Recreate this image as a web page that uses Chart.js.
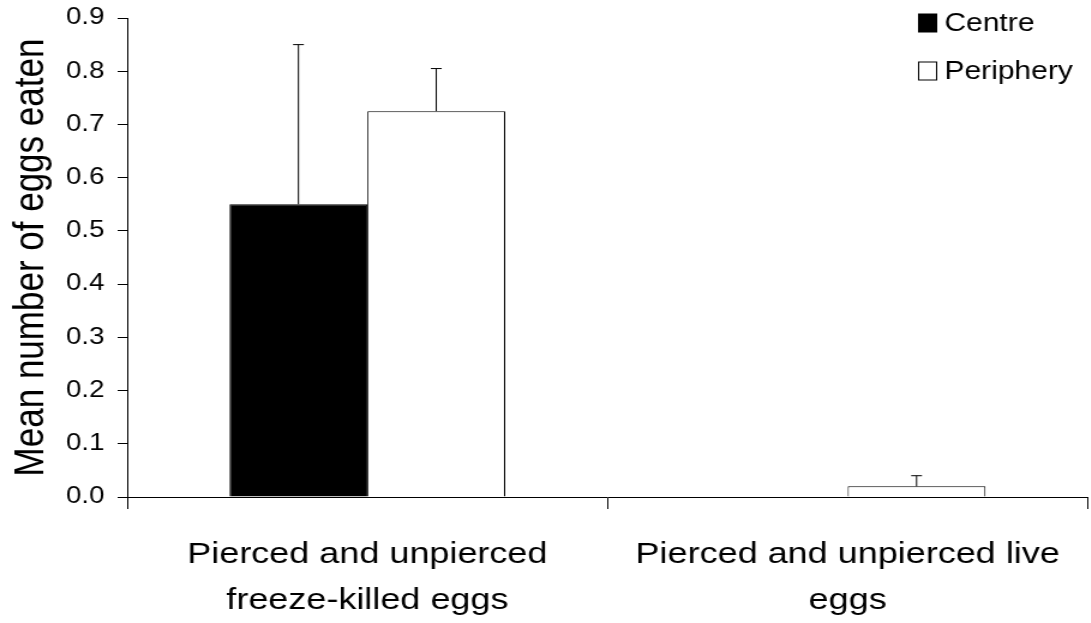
<!DOCTYPE html>
<html>
<head>
<meta charset="utf-8">
<script src="https://cdn.jsdelivr.net/npm/chart.js@4/dist/chart.umd.min.js"></script>
<style>
  html, body { margin: 0; padding: 0; background: #fff; overflow: hidden; }
  /* the reference is stretched horizontally; draw narrow and scale up */
  #wrap { width: 909px; height: 623px; transform: scaleX(1.2); transform-origin: 0 0; }
</style>
</head>
<body>
<div id="wrap"><canvas id="chart"></canvas></div>
<script>
// ---- data -----------------------------------------------------------
const categories = [
  ["Pierced and unpierced", "freeze-killed eggs"],
  ["Pierced and unpierced live", "eggs"],
];
const seriesNames = ["Centre", "Periphery"];
const centreValues = [0.55, 0.0];
const peripheryValues = [0.725, 0.02];
const centreErrors = [0.3, 0.0];
const peripheryErrors = [0.08, 0.02];
const yTicks = [0, 0.1, 0.2, 0.3, 0.4, 0.5, 0.6, 0.7, 0.8, 0.9];

const FONT = "'Liberation Sans', Arial, sans-serif";

// upper-only error bars with caps
const errorBars = {
  id: "errorBars",
  afterDatasetsDraw(chart) {
    const { ctx } = chart;
    const y = chart.scales.y;
    chart.data.datasets.forEach((ds, di) => {
      const meta = chart.getDatasetMeta(di);
      meta.data.forEach((bar, i) => {
        const err = ds.errors[i];
        if (!err) return;
        const top = y.getPixelForValue(ds.data[i] + err);
        ctx.save();
        ctx.strokeStyle = "#000";
        ctx.lineWidth = 1;
        ctx.beginPath();
        ctx.moveTo(bar.x, bar.y);
        ctx.lineTo(bar.x, top);
        ctx.moveTo(bar.x - 4.5, top);
        ctx.lineTo(bar.x + 4.5, top);
        ctx.stroke();
        ctx.restore();
      });
    });
  },
};

// legend in top-right corner
const cornerLegend = {
  id: "cornerLegend",
  afterDraw(chart) {
    const { ctx } = chart;
    const fills = ["#000", "#fff"];
    ctx.save();
    ctx.font = "25px " + FONT;
    ctx.textBaseline = "middle";
    seriesNames.forEach((name, i) => {
      const yy = 23 + i * 48;
      ctx.fillStyle = fills[i];
      ctx.strokeStyle = "#000";
      ctx.lineWidth = 1;
      ctx.fillRect(765.5, yy - 9, 15, 18);
      ctx.strokeRect(765.5, yy - 9, 15, 18);
      ctx.fillStyle = "#000";
      ctx.fillText(name, 787, yy + 1);
    });
    ctx.restore();
  },
};

new Chart(document.getElementById("chart"), {
  type: "bar",
  data: {
    labels: categories,
    datasets: [
      {
        label: seriesNames[0],
        data: centreValues,
        errors: centreErrors,
        backgroundColor: "#000",
        borderColor: "#000",
        borderWidth: 1,
      },
      {
        label: seriesNames[1],
        data: peripheryValues,
        errors: peripheryErrors,
        backgroundColor: "#fff",
        borderColor: "#000",
        borderWidth: 1,
      },
    ],
  },
  options: {
    responsive: true,
    maintainAspectRatio: false,
    animation: false,
    layout: { padding: { top: 18, right: 2.5, left: 5 } },
    categoryPercentage: 0.574,
    barPercentage: 1,
    plugins: { legend: { display: false }, tooltip: { enabled: false } },
    scales: {
      x: {
        grid: { drawOnChartArea: false, offset: true, tickLength: 12, color: "#000" },
        border: { color: "#000" },
        ticks: { color: "#000", font: { family: FONT, size: 30, lineHeight: 1.55 }, maxRotation: 0, padding: 22 },
        afterFit: (s) => { s.height = 126; },
      },
      y: {
        min: 0,
        max: 0.9,
        afterBuildTicks: (s) => { s.ticks = yTicks.map((v) => ({ value: v })); },
        grid: { drawOnChartArea: false, tickLength: 8, color: "#000" },
        border: { color: "#000" },
        ticks: {
          color: "#000",
          font: { family: FONT, size: 23 },
          padding: 11,
          callback: (v) => Number(v).toFixed(1),
        },
        title: {
          display: true,
          text: "Mean number of eggs eaten",
          color: "#000",
          font: { family: FONT, size: 35 },
          padding: 0,
        },
        afterFit: (s) => {
          s.width = 101;
          s.paddingTop = 0;
          s.paddingBottom = 0;
        },
      },
    },
  },
  plugins: [errorBars, cornerLegend],
});
</script>
</body>
</html>
